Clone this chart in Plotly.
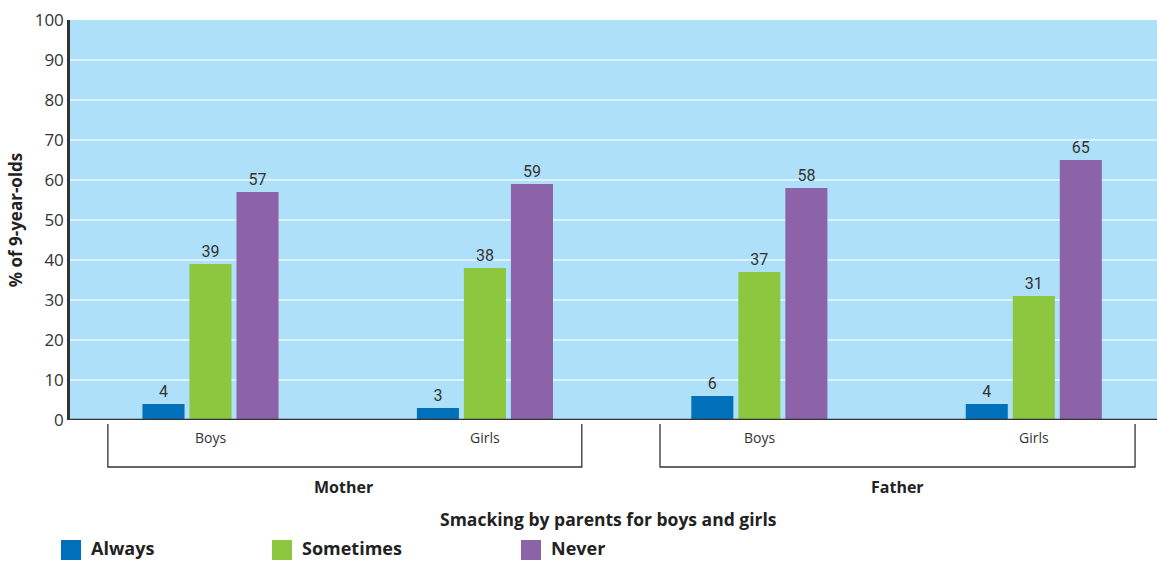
import plotly.graph_objects as go

parents = ["Mother", "Father"]
children = ["Boys", "Girls", "Boys", "Girls"]
series_names = ["Always", "Sometimes", "Never"]
always = [4, 3, 6, 4]
sometimes = [39, 38, 37, 31]
never = [57, 59, 58, 65]
y_ticks = [0, 10, 20, 30, 40, 50, 60, 70, 80, 90, 100]

colors = ["#0070bb", "#8dc63f", "#8c62a9"]
values = [always, sometimes, never]
xpos = list(range(len(children)))

W, H = 1157, 561
L, R, T, B = 70, 0, 20, 141
plot_h = H - T - B

def py(p):
    return (H - B - p) / plot_h

fig = go.Figure()
for name, vals, col in zip(series_names, values, colors):
    fig.add_trace(go.Bar(
        x=xpos, y=vals, name=name, marker=dict(color=col, line=dict(width=0)),
        text=[str(v) for v in vals], textposition="outside",
        textfont=dict(family="Liberation Sans Narrow, Arial Narrow, Roboto, Arial", size=16, color="#333333"),
        cliponaxis=False, showlegend=False,
    ))

xr = [-0.512, 3.449]
fig.update_layout(
    width=W, height=H,
    margin=dict(l=L, r=R, t=T, b=B),
    paper_bgcolor="white", plot_bgcolor="#aee1f9",
    barmode="group", bargap=0.486, bargroupgap=0.106,
    font=dict(family="Open Sans, Noto Sans, Arial", color="#333333"),
    xaxis=dict(range=xr, showticklabels=False, ticks="", showgrid=False, zeroline=False,
               showline=False, fixedrange=True),
    yaxis=dict(range=[0, 100], tickvals=y_ticks, ticks="", showgrid=True,
               gridcolor="#ddf2fd", gridwidth=1.5, zeroline=False,
               showline=True, linecolor="#333333", linewidth=2.5,
               tickfont=dict(size=17, color="#333333"),
               title=dict(text="<b>% of 9-year-olds</b>", font=dict(size=17, color="#222222"), standoff=8)),
)

shapes = []
annotations = []
# bottom axis line
shapes.append(dict(type="line", xref="paper", yref="y", x0=0, x1=1, y0=0, y1=0,
                   line=dict(color="#333333", width=2.5)))
# category labels
for i, c in enumerate(children):
    annotations.append(dict(x=xpos[i], y=py(437), xref="x", yref="paper", text=c, showarrow=False,
                            font=dict(size=14, color="#333333"), xanchor="center", yanchor="middle"))
# brackets for parents
brackets = [(-0.374, 1.353), (1.638, 3.369)]
label_x = [343, 897]
for (x0, x1), p, lx in zip(brackets, parents, label_x):
    shapes.append(dict(type="path", xref="x", yref="paper",
                       path=f"M {x0},{py(424)} L {x0},{py(467)} L {x1},{py(467)} L {x1},{py(424)}",
                       line=dict(color="#333333", width=1.3)))
    annotations.append(dict(x=(lx - L) / (W - L - R), y=py(487), xref="paper", yref="paper",
                            text=f"<b>{p}</b>", showarrow=False,
                            font=dict(size=16, color="#222222"), xanchor="center", yanchor="middle"))
# x axis title
annotations.append(dict(x=(608 - L) / (W - L - R), y=py(519), xref="paper", yref="paper",
                        text="<b>Smacking by parents for boys and girls</b>", showarrow=False,
                        font=dict(size=17.5, color="#222222"), xanchor="center", yanchor="middle"))
# custom legend
leg_x = [61, 272, 521]
for name, col, lx in zip(series_names, colors, leg_x):
    x0 = (lx - L) / (W - L - R)
    x1 = (lx + 20 - L) / (W - L - R)
    shapes.append(dict(type="rect", xref="paper", yref="paper", x0=x0, x1=x1,
                       y0=py(560), y1=py(540), fillcolor=col, line=dict(width=0)))
    annotations.append(dict(x=(lx + 28 - L) / (W - L - R), y=py(548), xref="paper", yref="paper",
                            text=f"<b>{name}</b>", showarrow=False,
                            font=dict(size=18, color="#222222"), xanchor="left", yanchor="middle"))

fig.update_layout(shapes=shapes, annotations=annotations)
fig.write_html("out.html")
